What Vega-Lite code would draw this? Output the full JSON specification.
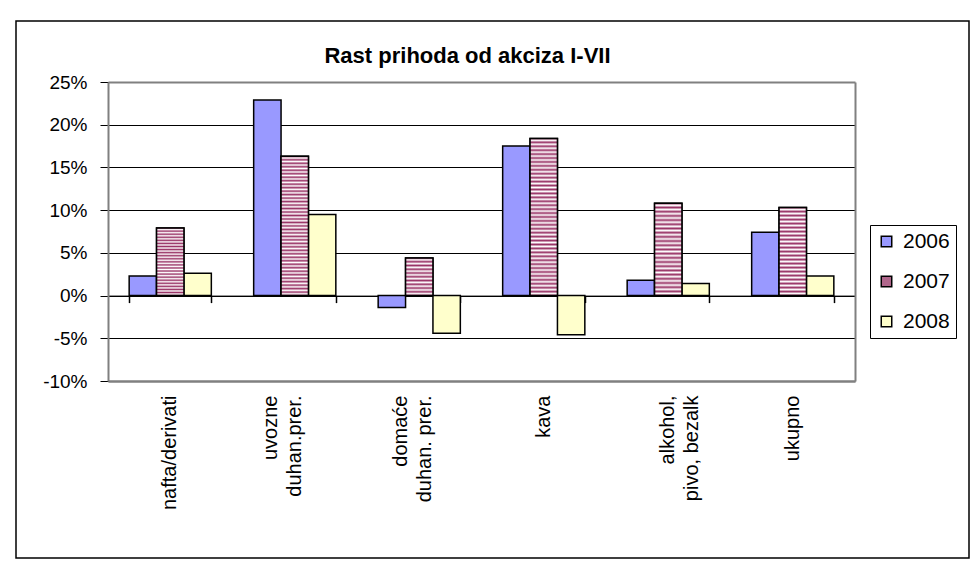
{
  "$schema": "https://vega.github.io/schema/vega-lite/v6.json",
  "autosize": {"type": "none"},
  "padding": {"left": 16, "top": 21, "right": 7, "bottom": 4},
  "width": 953,
  "height": 537,
  "background": "#ffffff",
  "config": {
    "font": "Liberation Sans",
    "view": {"stroke": "#000000", "strokeWidth": 1.5}
  },
  "title": {
    "text": "Rast prihoda od akciza I-VII",
    "fontSize": 22,
    "fontWeight": "bold",
    "font": "Liberation Sans",
    "color": "#000000",
    "anchor": "middle",
    "frame": "group",
    "offset": 0,
    "baseline": "alphabetic",
    "dy": 64,
    "dx": -25
  },
  "data": {
    "values": [
      {"cat": "nafta/derivati", "year": "2006", "v": 2.3},
      {"cat": "nafta/derivati", "year": "2007", "v": 7.9},
      {"cat": "nafta/derivati", "year": "2008", "v": 2.6},
      {"cat": "uvozne duhan.prer.", "year": "2006", "v": 22.9},
      {"cat": "uvozne duhan.prer.", "year": "2007", "v": 16.3},
      {"cat": "uvozne duhan.prer.", "year": "2008", "v": 9.5},
      {"cat": "domaće duhan. prer.", "year": "2006", "v": -1.4},
      {"cat": "domaće duhan. prer.", "year": "2007", "v": 4.4},
      {"cat": "domaće duhan. prer.", "year": "2008", "v": -4.4},
      {"cat": "kava", "year": "2006", "v": 17.5},
      {"cat": "kava", "year": "2007", "v": 18.4},
      {"cat": "kava", "year": "2008", "v": -4.6},
      {"cat": "alkohol, pivo, bezalk", "year": "2006", "v": 1.8},
      {"cat": "alkohol, pivo, bezalk", "year": "2007", "v": 10.8},
      {"cat": "alkohol, pivo, bezalk", "year": "2008", "v": 1.4},
      {"cat": "ukupno", "year": "2006", "v": 7.4},
      {"cat": "ukupno", "year": "2007", "v": 10.3},
      {"cat": "ukupno", "year": "2008", "v": 2.3}
    ]
  },
  "resolve": {"axis": {"x": "independent", "y": "independent"}},
  "layer": [
    {
      "mark": {"type": "bar", "stroke": "#000000", "strokeWidth": 1.5},
      "encoding": {
        "x": {
          "field": "cat",
          "type": "nominal",
          "scale": {
            "domain": ["nafta/derivati", "uvozne duhan.prer.", "domaće duhan. prer.", "kava", "alkohol, pivo, bezalk", "ukupno"],
            "range": [92, 839],
            "paddingInner": 0.34,
            "paddingOuter": 0.17
          },
          "axis": {
            "orient": "bottom",
            "offset": -177,
            "title": null,
            "domain": true,
            "domainColor": "#808080",
            "domainWidth": 2,
            "ticks": false,
            "tickSize": 0,
            "grid": false,
            "labelAngle": -90,
            "labelFontSize": 20,
            "labelColor": "#000000",
            "labelPadding": 14,
            "labelLineHeight": 24,
            "labelOffset": {"condition": [
              {"test": "datum.value === 'uvozne duhan.prer.'", "value": -24},
              {"test": "datum.value === 'domaće duhan. prer.'", "value": -18}
            ], "value": 0},
            "labelExpr": "datum.value === 'uvozne duhan.prer.' ? ['uvozne', 'duhan.prer.'] : datum.value === 'domaće duhan. prer.' ? ['domaće', 'duhan. prer.'] : datum.value === 'alkohol, pivo, bezalk' ? ['alkohol,', 'pivo, bezalk'] : datum.value"
          }
        },
        "xOffset": {
          "field": "year",
          "type": "nominal",
          "scale": {"domain": ["2006", "2007", "2008"], "paddingInner": 0, "paddingOuter": 0}
        },
        "y": {
          "field": "v",
          "type": "quantitative",
          "scale": {"domain": [-10, 25], "range": [360, 61], "nice": false, "zero": false},
          "axis": {
            "orient": "left",
            "offset": -92,
            "title": null,
            "values": [-10, -5, 0, 5, 10, 15, 20, 25],
            "labelExpr": "datum.value + '%'",
            "labelFontSize": 19,
            "labelColor": "#000000",
            "labelPadding": 13,
            "tickSize": 8,
            "tickColor": "#000000",
            "domainColor": "#808080",
            "domainWidth": 2,
            "grid": true,
            "gridColor": {"condition": {"test": "datum.value === 25 || datum.value === -10", "value": "#808080"}, "value": "#000000"},
            "gridWidth": {"condition": {"test": "datum.value === 25 || datum.value === -10", "value": 2}, "value": 1}
          }
        },
        "color": {
          "field": "year",
          "type": "nominal",
          "scale": {"domain": ["2006", "2007", "2008"], "range": ["#9999ff", "#b0668b", "#ffffcc"]},
          "legend": {
            "orient": "none",
            "legendX": 854,
            "legendY": 204,
            "title": null,
            "strokeColor": "#000000",
            "fillColor": "#ffffff",
            "padding": 6,
            "symbolType": "square",
            "symbolSize": 110,
            "symbolStrokeColor": "#000000",
            "symbolStrokeWidth": 1.5,
            "symbolOpacity": 1,
            "labelFontSize": 21,
            "labelColor": "#000000",
            "labelOffset": 6,
            "rowPadding": 18
          }
        }
      }
    },
    {
      "transform": [{"filter": "datum.year === '2007'"}],
      "mark": {"type": "bar", "stroke": "#000000", "strokeWidth": 1.5},
      "encoding": {
        "x": {
          "field": "cat",
          "type": "nominal",
          "axis": {
            "orient": "top",
            "offset": -274.6,
            "zindex": 0,
            "title": null,
            "labels": false,
            "grid": false,
            "domain": true,
            "domainColor": "#000000",
            "domainWidth": 1,
            "ticks": true,
            "tickBand": "extent",
            "tickSize": -7,
            "tickWidth": 1.5,
            "tickColor": "#000000"
          }
        },
        "xOffset": {"field": "year", "type": "nominal"},
        "y": {
          "field": "v",
          "type": "quantitative",
          "axis": {
            "orient": "right",
            "offset": -114,
            "title": null,
            "labels": false,
            "ticks": false,
            "grid": false,
            "domain": true,
            "domainColor": "#808080",
            "domainWidth": 2
          }
        },
        "fill": {
          "condition": [
            {"test": "datum.cat === 'uvozne duhan.prer.' || datum.cat === 'kava'", "value": {"gradient": "linear", "x1": 0, "y1": 0, "x2": 0, "y2": 1, "stops": [
              {"offset": 0, "color": "#936"}, {"offset": 0.0125, "color": "#fff"}, {"offset": 0.025, "color": "#936"}, {"offset": 0.0375, "color": "#fff"},
              {"offset": 0.05, "color": "#936"}, {"offset": 0.0625, "color": "#fff"}, {"offset": 0.075, "color": "#936"}, {"offset": 0.0875, "color": "#fff"},
              {"offset": 0.1, "color": "#936"}, {"offset": 0.1125, "color": "#fff"}, {"offset": 0.125, "color": "#936"}, {"offset": 0.1375, "color": "#fff"},
              {"offset": 0.15, "color": "#936"}, {"offset": 0.1625, "color": "#fff"}, {"offset": 0.175, "color": "#936"}, {"offset": 0.1875, "color": "#fff"},
              {"offset": 0.2, "color": "#936"}, {"offset": 0.2125, "color": "#fff"}, {"offset": 0.225, "color": "#936"}, {"offset": 0.2375, "color": "#fff"},
              {"offset": 0.25, "color": "#936"}, {"offset": 0.2625, "color": "#fff"}, {"offset": 0.275, "color": "#936"}, {"offset": 0.2875, "color": "#fff"},
              {"offset": 0.3, "color": "#936"}, {"offset": 0.3125, "color": "#fff"}, {"offset": 0.325, "color": "#936"}, {"offset": 0.3375, "color": "#fff"},
              {"offset": 0.35, "color": "#936"}, {"offset": 0.3625, "color": "#fff"}, {"offset": 0.375, "color": "#936"}, {"offset": 0.3875, "color": "#fff"},
              {"offset": 0.4, "color": "#936"}, {"offset": 0.4125, "color": "#fff"}, {"offset": 0.425, "color": "#936"}, {"offset": 0.4375, "color": "#fff"},
              {"offset": 0.45, "color": "#936"}, {"offset": 0.4625, "color": "#fff"}, {"offset": 0.475, "color": "#936"}, {"offset": 0.4875, "color": "#fff"},
              {"offset": 0.5, "color": "#936"}, {"offset": 0.5125, "color": "#fff"}, {"offset": 0.525, "color": "#936"}, {"offset": 0.5375, "color": "#fff"},
              {"offset": 0.55, "color": "#936"}, {"offset": 0.5625, "color": "#fff"}, {"offset": 0.575, "color": "#936"}, {"offset": 0.5875, "color": "#fff"},
              {"offset": 0.6, "color": "#936"}, {"offset": 0.6125, "color": "#fff"}, {"offset": 0.625, "color": "#936"}, {"offset": 0.6375, "color": "#fff"},
              {"offset": 0.65, "color": "#936"}, {"offset": 0.6625, "color": "#fff"}, {"offset": 0.675, "color": "#936"}, {"offset": 0.6875, "color": "#fff"},
              {"offset": 0.7, "color": "#936"}, {"offset": 0.7125, "color": "#fff"}, {"offset": 0.725, "color": "#936"}, {"offset": 0.7375, "color": "#fff"},
              {"offset": 0.75, "color": "#936"}, {"offset": 0.7625, "color": "#fff"}, {"offset": 0.775, "color": "#936"}, {"offset": 0.7875, "color": "#fff"},
              {"offset": 0.8, "color": "#936"}, {"offset": 0.8125, "color": "#fff"}, {"offset": 0.825, "color": "#936"}, {"offset": 0.8375, "color": "#fff"},
              {"offset": 0.85, "color": "#936"}, {"offset": 0.8625, "color": "#fff"}, {"offset": 0.875, "color": "#936"}, {"offset": 0.8875, "color": "#fff"},
              {"offset": 0.9, "color": "#936"}, {"offset": 0.9125, "color": "#fff"}, {"offset": 0.925, "color": "#936"}, {"offset": 0.9375, "color": "#fff"},
              {"offset": 0.95, "color": "#936"}, {"offset": 0.9625, "color": "#fff"}, {"offset": 0.975, "color": "#936"}, {"offset": 0.9875, "color": "#fff"},
              {"offset": 1, "color": "#936"}]}},
            {"test": "datum.cat === 'domaće duhan. prer.'", "value": {"gradient": "linear", "x1": 0, "y1": 0, "x2": 0, "y2": 1, "stops": [
              {"offset": 0, "color": "#936"}, {"offset": 0.05, "color": "#fff"}, {"offset": 0.1, "color": "#936"}, {"offset": 0.15, "color": "#fff"},
              {"offset": 0.2, "color": "#936"}, {"offset": 0.25, "color": "#fff"}, {"offset": 0.3, "color": "#936"}, {"offset": 0.35, "color": "#fff"},
              {"offset": 0.4, "color": "#936"}, {"offset": 0.45, "color": "#fff"}, {"offset": 0.5, "color": "#936"}, {"offset": 0.55, "color": "#fff"},
              {"offset": 0.6, "color": "#936"}, {"offset": 0.65, "color": "#fff"}, {"offset": 0.7, "color": "#936"}, {"offset": 0.75, "color": "#fff"},
              {"offset": 0.8, "color": "#936"}, {"offset": 0.85, "color": "#fff"}, {"offset": 0.9, "color": "#936"}, {"offset": 0.95, "color": "#fff"},
              {"offset": 1, "color": "#936"}]}}
          ],
          "value": {"gradient": "linear", "x1": 0, "y1": 0, "x2": 0, "y2": 1, "stops": [
            {"offset": 0, "color": "#936"}, {"offset": 0.0227, "color": "#fff"}, {"offset": 0.0455, "color": "#936"}, {"offset": 0.0682, "color": "#fff"},
            {"offset": 0.0909, "color": "#936"}, {"offset": 0.1136, "color": "#fff"}, {"offset": 0.1364, "color": "#936"}, {"offset": 0.1591, "color": "#fff"},
            {"offset": 0.1818, "color": "#936"}, {"offset": 0.2045, "color": "#fff"}, {"offset": 0.2273, "color": "#936"}, {"offset": 0.25, "color": "#fff"},
            {"offset": 0.2727, "color": "#936"}, {"offset": 0.2955, "color": "#fff"}, {"offset": 0.3182, "color": "#936"}, {"offset": 0.3409, "color": "#fff"},
            {"offset": 0.3636, "color": "#936"}, {"offset": 0.3864, "color": "#fff"}, {"offset": 0.4091, "color": "#936"}, {"offset": 0.4318, "color": "#fff"},
            {"offset": 0.4545, "color": "#936"}, {"offset": 0.4773, "color": "#fff"}, {"offset": 0.5, "color": "#936"}, {"offset": 0.5227, "color": "#fff"},
            {"offset": 0.5455, "color": "#936"}, {"offset": 0.5682, "color": "#fff"}, {"offset": 0.5909, "color": "#936"}, {"offset": 0.6136, "color": "#fff"},
            {"offset": 0.6364, "color": "#936"}, {"offset": 0.6591, "color": "#fff"}, {"offset": 0.6818, "color": "#936"}, {"offset": 0.7045, "color": "#fff"},
            {"offset": 0.7273, "color": "#936"}, {"offset": 0.75, "color": "#fff"}, {"offset": 0.7727, "color": "#936"}, {"offset": 0.7955, "color": "#fff"},
            {"offset": 0.8182, "color": "#936"}, {"offset": 0.8409, "color": "#fff"}, {"offset": 0.8636, "color": "#936"}, {"offset": 0.8864, "color": "#fff"},
            {"offset": 0.9091, "color": "#936"}, {"offset": 0.9318, "color": "#fff"}, {"offset": 0.9545, "color": "#936"}, {"offset": 0.9773, "color": "#fff"},
            {"offset": 1, "color": "#936"}]}
        }
      }
    }
  ]
}
